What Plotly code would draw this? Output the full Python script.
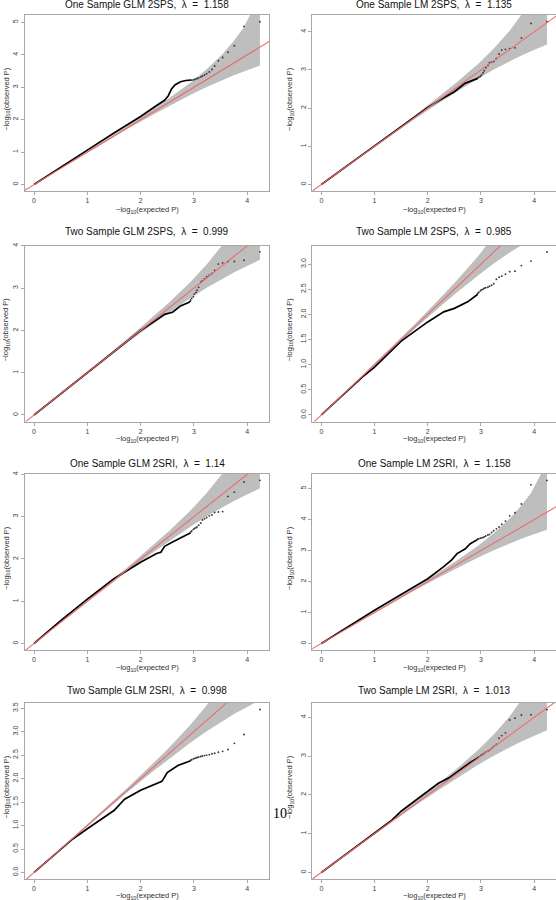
import plotly.graph_objects as go

# ---------------- data ----------------
panel_names = ["One Sample GLM 2SPS", "One Sample LM 2SPS",
               "Two Sample GLM 2SPS", "Two Sample LM 2SPS",
               "One Sample GLM 2SRI", "One Sample LM 2SRI",
               "Two Sample GLM 2SRI", "Two Sample LM 2SRI"]
lambdas = ["1.158", "1.135", "0.999", "0.985", "1.14", "1.158", "0.998", "1.013"]

# 95% band of the expected -log10(P) (same in every panel)
band_x = [0, 0.76, 1.24, 1.76, 2.24, 2.54, 2.94, 3.24, 3.54, 3.76, 3.94, 4.24]
band_lo = [0, 0.75, 1.21, 1.72, 2.16, 2.43, 2.77, 3.01, 3.23, 3.38, 3.49, 3.67]
band_hi = [0, 0.78, 1.27, 1.81, 2.33, 2.67, 3.15, 3.56, 4.03, 4.45, 4.86, 5.84]

# expected -log10(P) of the 20 most extreme tests (sparse dots)
tail_x = [4.24, 3.94, 3.76, 3.64, 3.54, 3.46, 3.39, 3.34, 3.29, 3.24,
          3.20, 3.16, 3.13, 3.09, 3.06, 3.04, 3.01, 2.99, 2.96, 2.94]

# dense part of each QQ curve (expected, observed)
p1_cx = [0, 0.5, 1.0, 1.5, 2.0, 2.3, 2.45, 2.52, 2.58, 2.65, 2.75, 2.85, 2.94]
p1_cy = [0, 0.54, 1.06, 1.59, 2.10, 2.44, 2.60, 2.74, 2.95, 3.08, 3.17, 3.21, 3.22]
p1_ty = [5.02, 4.88, 4.28, 4.08, 3.92, 3.82, 3.66, 3.55, 3.47, 3.42,
         3.38, 3.35, 3.32, 3.29, 3.27, 3.26, 3.24, 3.23, 3.22, 3.22]

p2_cx = [0, 0.5, 1.0, 1.5, 2.0, 2.3, 2.5, 2.7, 2.85, 2.94]
p2_cy = [0, 0.51, 1.02, 1.52, 2.02, 2.27, 2.43, 2.65, 2.74, 2.78]
p2_ty = [4.27, 4.22, 3.84, 3.58, 3.56, 3.54, 3.52, 3.42, 3.30, 3.22,
         3.21, 3.19, 3.12, 3.06, 2.98, 2.92, 2.87, 2.83, 2.81, 2.79]

p3_cx = [0, 0.5, 1.0, 1.5, 2.0, 2.3, 2.45, 2.6, 2.75, 2.9, 2.94]
p3_cy = [0, 0.5, 1.0, 1.48, 2.0, 2.25, 2.38, 2.43, 2.58, 2.66, 2.70]
p3_ty = [3.86, 3.66, 3.63, 3.63, 3.60, 3.57, 3.42, 3.35, 3.31, 3.27,
         3.22, 3.18, 3.14, 3.02, 2.95, 2.90, 2.86, 2.80, 2.76, 2.72]

p4_cx = [0, 0.5, 0.8, 1.0, 1.5, 2.0, 2.3, 2.5, 2.75, 2.94]
p4_cy = [0, 0.5, 0.78, 0.95, 1.47, 1.85, 2.05, 2.12, 2.25, 2.40]
p4_ty = [3.24, 3.06, 2.97, 2.86, 2.85, 2.80, 2.76, 2.74, 2.70, 2.61,
         2.58, 2.56, 2.54, 2.53, 2.52, 2.50, 2.49, 2.47, 2.44, 2.42]

p5_cx = [0, 0.5, 1.0, 1.5, 2.0, 2.3, 2.38, 2.45, 2.6, 2.75, 2.94]
p5_cy = [0, 0.54, 1.05, 1.53, 1.92, 2.13, 2.16, 2.30, 2.40, 2.50, 2.62]
p5_ty = [3.86, 3.82, 3.58, 3.48, 3.12, 3.11, 3.10, 3.04, 3.02, 2.98,
         2.95, 2.92, 2.85, 2.80, 2.76, 2.74, 2.72, 2.70, 2.66, 2.64]

p6_cx = [0, 0.5, 1.0, 1.5, 2.0, 2.3, 2.45, 2.55, 2.7, 2.8, 2.94]
p6_cy = [0, 0.54, 1.07, 1.58, 2.09, 2.48, 2.70, 2.90, 3.05, 3.22, 3.36]
p6_ty = [5.26, 5.12, 4.50, 4.22, 4.12, 3.95, 3.85, 3.76, 3.70, 3.64,
         3.58, 3.52, 3.50, 3.47, 3.44, 3.42, 3.41, 3.40, 3.38, 3.37]

p7_cx = [0, 0.5, 0.7, 1.0, 1.5, 1.7, 2.0, 2.4, 2.45, 2.5, 2.7, 2.94]
p7_cy = [0, 0.49, 0.69, 0.93, 1.32, 1.56, 1.75, 1.94, 2.05, 2.13, 2.28, 2.38]
p7_ty = [3.47, 2.94, 2.75, 2.62, 2.58, 2.56, 2.54, 2.53, 2.51, 2.50,
         2.49, 2.48, 2.47, 2.46, 2.45, 2.44, 2.43, 2.42, 2.40, 2.39]

p8_cx = [0, 0.5, 1.0, 1.3, 1.5, 1.8, 2.0, 2.2, 2.4, 2.6, 2.8, 2.94]
p8_cy = [0, 0.5, 1.0, 1.32, 1.58, 1.89, 2.10, 2.30, 2.44, 2.65, 2.84, 2.95]
p8_ty = [4.20, 4.07, 4.06, 3.98, 3.93, 3.60, 3.53, 3.46, 3.30, 3.25,
         3.20, 3.15, 3.13, 3.10, 3.07, 3.05, 3.03, 3.00, 2.98, 2.96]

curves_x = [p1_cx, p2_cx, p3_cx, p4_cx, p5_cx, p6_cx, p7_cx, p8_cx]
curves_y = [p1_cy, p2_cy, p3_cy, p4_cy, p5_cy, p6_cy, p7_cy, p8_cy]
tails_y = [p1_ty, p2_ty, p3_ty, p4_ty, p5_ty, p6_ty, p7_ty, p8_ty]

y_ranges = [[-0.20, 5.23], [-0.17, 4.44], [-0.154, 4.01], [-0.13, 3.37],
            [-0.154, 4.01], [-0.21, 5.47], [-0.139, 3.61], [-0.168, 4.37]]
y_dticks = [1, 1, 1, 0.5, 1, 1, 0.5, 1]
x_range = [-0.17, 4.41]
diag = [-1, 7]

# ---------------- layout geometry (pixels) ----------------
W, H = 556, 900
col_left = [25, 312.3]
col_right = [269, 556]
row_top = [15, 245.5, 474, 703]
box_h = 176
title_y = [5, 231.5, 463, 690]
xtitle_gap = [19, 17.8, 17.8, 16.5]

FONT = "Liberation Sans, Arial, Helvetica, sans-serif"
BOX = "#a8a8a8"

fig = go.Figure()
annotations = []
layout_axes = {}

for k in range(8):
    r, c = divmod(k, 2)
    n = k + 1
    xa = "x" if n == 1 else f"x{n}"
    ya = "y" if n == 1 else f"y{n}"
    x0, x1 = col_left[c], col_right[c]
    top = row_top[r]
    bot = top + box_h

    fig.add_trace(go.Scatter(
        x=band_x + band_x[::-1], y=band_lo + band_hi[::-1],
        fill="toself", fillcolor="#bebebe", line=dict(width=0, color="#bebebe"),
        mode="lines", hoverinfo="skip", xaxis=xa, yaxis=ya))
    fig.add_trace(go.Scatter(
        x=curves_x[k], y=curves_y[k], mode="lines",
        line=dict(color="black", width=1.7), xaxis=xa, yaxis=ya))
    fig.add_trace(go.Scatter(
        x=tail_x, y=tails_y[k], mode="markers",
        marker=dict(color="#3a3a3a", size=1.9), xaxis=xa, yaxis=ya))
    fig.add_trace(go.Scatter(
        x=diag, y=diag, mode="lines",
        line=dict(color="#ef6b6b", width=1.1), xaxis=xa, yaxis=ya))

    common = dict(showline=True, mirror=True, linecolor=BOX, linewidth=1,
                  ticks="outside", ticklen=3, tickcolor=BOX, tickwidth=1,
                  showgrid=False, zeroline=False, automargin=False,
                  tickfont=dict(family=FONT, size=7, color="#404040"))
    xkey = "xaxis" if n == 1 else f"xaxis{n}"
    ykey = "yaxis" if n == 1 else f"yaxis{n}"
    layout_axes[xkey] = dict(common, domain=[x0 / W, min(x1 / W, 1.0)],
                             range=x_range, anchor=ya, tick0=0, dtick=1)
    layout_axes[ykey] = dict(common, domain=[1 - bot / H, 1 - top / H],
                             range=y_ranges[k], anchor=xa, tick0=0,
                             dtick=y_dticks[k], tickangle=-90,
                             tickformat=".1f" if y_dticks[k] < 1 else "d")

    cx = (x0 + min(x1, 556.5)) / 2
    annotations.append(dict(
        x=cx / W, y=1 - title_y[r] / H, xref="paper", yref="paper",
        text=f"{panel_names[k]},\u00a0\u00a0λ\u00a0\u00a0=\u00a0\u00a0{lambdas[k]}",
        showarrow=False, xanchor="center", yanchor="middle",
        font=dict(family=FONT, size=10, color="#111111")))
    annotations.append(dict(
        x=((x0 + x1) / 2) / W, y=1 - (bot + xtitle_gap[r]) / H,
        xref="paper", yref="paper",
        text="\u2212log<sub>10</sub>(expected P)", showarrow=False,
        xanchor="center", yanchor="middle",
        font=dict(family=FONT, size=7.5, color="#303030")))
    ytx = 6.8 if c == 0 else 290
    annotations.append(dict(
        x=ytx / W, y=1 - (top + box_h / 2 - 4) / H, xref="paper", yref="paper",
        text="\u2212log<sub>10</sub>(observed P)", showarrow=False, textangle=-90,
        xanchor="center", yanchor="middle",
        font=dict(family=FONT, size=7.5, color="#303030")))

annotations.append(dict(
    x=279.5 / W, y=1 - 813.5 / H, xref="paper", yref="paper", text="10",
    showarrow=False, xanchor="center", yanchor="middle",
    font=dict(family="Liberation Serif, DejaVu Serif, serif", size=14, color="black")))

fig.update_layout(
    width=W, height=H, margin=dict(l=0, r=0, t=0, b=0, autoexpand=False),
    paper_bgcolor="white", plot_bgcolor="white", showlegend=False,
    annotations=annotations, **layout_axes)

fig.write_html(
    "out.html",
    config={"displayModeBar": False},
    post_script="document.body.style.margin='0';document.body.style.overflow='hidden';")
